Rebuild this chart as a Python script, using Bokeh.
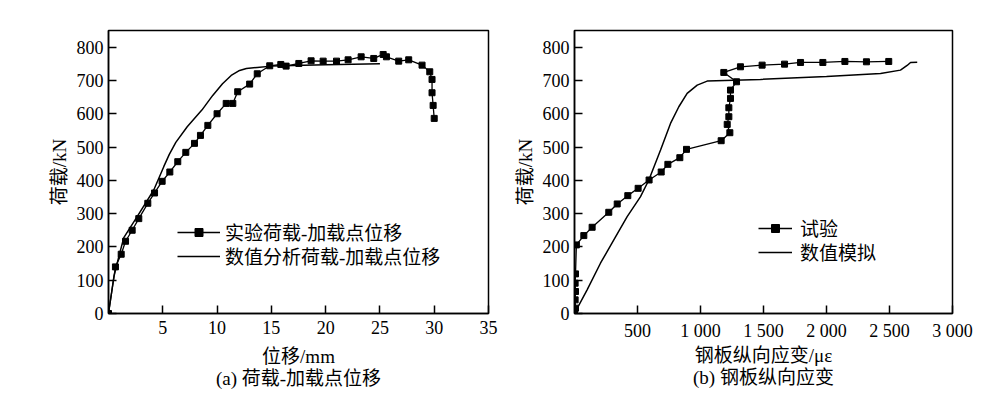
from bokeh.plotting import figure
from bokeh.layouts import row
from bokeh.models import FixedTicker, Legend, LegendItem, Range1d
from bokeh.embed import file_html
from bokeh.resources import INLINE

# ---------------- data (a) ----------------
exp_disp = [0, 0.64, 1.17, 1.57, 2.18, 2.79, 3.62, 4.24, 4.94, 5.65, 6.38, 7.12, 7.92, 8.47,
            9.15, 10.0, 10.84, 11.45, 11.9, 13.0, 13.7, 14.85, 15.87, 16.36, 17.53, 18.66,
            19.77, 21.0, 22.07, 23.27, 24.43, 25.3, 25.6, 26.73, 27.65, 28.88, 29.59, 29.8,
            29.8, 29.9, 30.0]
exp_load = [0, 140, 178, 217, 250, 285, 331, 362, 397, 425, 456, 484, 511, 535, 565, 600, 631,
            631, 666, 689, 720, 744, 748, 743, 751, 759, 758, 758, 762, 771, 766, 778, 771, 758,
            762, 746, 726, 703, 663, 625, 586]
sim_disp = [0, 0.5, 0.95, 1.41, 2.64, 4.17, 5.09, 5.6, 6.2, 7.25, 8.6, 9.6, 10.5, 11.3, 12.0,
            12.7, 13.7, 15.0, 20.0, 25.0]
sim_load = [0, 111, 171, 228, 291, 371, 441, 478, 514, 561, 611, 655, 690, 715, 729, 736, 739,
            743, 747, 750]

# ---------------- data (b) ----------------
exp_strain = [0, 8, 5, 8, 5, 8, 15, 74, 140, 272, 339, 423, 505, 592, 688, 741, 836, 889, 1164,
              1233, 1212, 1225, 1225, 1238, 1238, 1286, 1185, 1317, 1489, 1667, 1794, 1971,
              2146, 2317, 2494]
exp_load2 = [0, 16, 41, 66, 91, 119, 206, 234, 259, 304, 329, 354, 376, 401, 425, 448, 468, 493,
             519, 543, 568, 591, 618, 646, 671, 696, 724, 741, 746, 749, 754, 754, 757, 756, 757]
sim_strain = [0, 100, 206, 312, 418, 524, 590, 683, 762, 828, 894, 974, 1053, 1476, 2000, 2429,
              2587, 2640, 2667, 2720]
sim_load2 = [0, 71, 151, 221, 291, 351, 401, 491, 571, 621, 661, 686, 698, 703, 712, 721, 731,
             745, 754, 755]

y_ticks = [0, 100, 200, 300, 400, 500, 600, 700, 800]
x_ticks_a = [5, 10, 15, 20, 25, 30, 35]
x_ticks_b = [500, 1000, 1500, 2000, 2500, 3000]
x_labels_b = {500: "500", 1000: "1 000", 1500: "1 500", 2000: "2 000", 2500: "2 500", 3000: "3 000"}

FONT = "'Liberation Serif', 'Noto Sans CJK SC'"
TICK_SIZE = "18px"
LABEL_SIZE = "19px"


def style(p, xticks, xlabel, ylabel, caption, xlabel_standoff):
    p.grid.visible = False
    p.outline_line_color = "black"
    p.outline_line_width = 1.5
    p.background_fill_color = "white"
    p.border_fill_color = "white"
    for ax in (p.xaxis[0], p.yaxis[0]):
        ax.axis_line_color = "black"
        ax.axis_line_width = 1.5
        ax.major_tick_in = 8
        ax.major_tick_out = 0
        ax.major_tick_line_width = 1.5
        ax.minor_tick_line_color = None
        ax.major_label_text_font = FONT
        ax.major_label_text_font_size = TICK_SIZE
        ax.major_label_text_color = "black"
        ax.axis_label_text_font = FONT
        ax.axis_label_text_font_size = LABEL_SIZE
        ax.axis_label_text_font_style = "normal"
        ax.axis_label_text_color = "black"
    p.xaxis[0].ticker = FixedTicker(ticks=xticks)
    p.yaxis[0].ticker = FixedTicker(ticks=y_ticks)
    p.xaxis[0].axis_label = xlabel + "\n" + caption
    p.xaxis[0].axis_label_text_line_height = 1.06
    p.yaxis[0].axis_label = ylabel
    p.xaxis[0].major_label_standoff = 7
    p.yaxis[0].major_label_standoff = 5
    p.xaxis[0].axis_label_standoff = xlabel_standoff
    p.yaxis[0].axis_label_standoff = 4


def add_legend(p, label, renderers, x, y, gw, standoff):
    leg = Legend(items=[LegendItem(label=label, renderers=renderers)],
                 location=(x, y), orientation="vertical", border_line_color=None,
                 background_fill_alpha=0, padding=0, margin=0, spacing=0,
                 glyph_width=gw, glyph_height=20, label_height=20, label_standoff=standoff,
                 label_text_font=FONT, label_text_font_size=LABEL_SIZE,
                 label_text_color="black")
    p.add_layout(leg)


# ---------------- figure (a) ----------------
pa = figure(width=508, height=393, output_backend="svg", toolbar_location=None,
            x_range=Range1d(0, 35), y_range=Range1d(0, 850),
            min_border_left=108, min_border_right=20, min_border_top=30, min_border_bottom=80)
style(pa, x_ticks_a, "位移/mm", "荷载/kN", "(a) 荷载-加载点位移", 9)
r_exp_l = pa.line(exp_disp, exp_load, line_color="black", line_width=1.3)
r_exp_m = pa.scatter(exp_disp, exp_load, marker="square", size=6, fill_color="black",
                     line_color="black")
r_sim = pa.line(sim_disp, sim_load, line_color="black", line_width=1.5)
add_legend(pa, "实验荷载-加载点位移", [r_exp_l, r_exp_m], 69, 68, 43, 5)
add_legend(pa, "数值分析荷载-加载点位移", [r_sim], 69, 44, 43, 5)

# ---------------- figure (b) ----------------
pb = figure(width=474, height=393, output_backend="svg", toolbar_location=None,
            x_range=Range1d(0, 3000), y_range=Range1d(0, 850),
            min_border_left=66, min_border_right=30, min_border_top=30, min_border_bottom=80)
style(pb, x_ticks_b, "钢板纵向应变/με", "荷载/kN", "(b) 钢板纵向应变", 1)
pb.xaxis[0].major_label_overrides = x_labels_b
r2_exp_l = pb.line(exp_strain, exp_load2, line_color="black", line_width=1.3)
r2_exp_m = pb.scatter(exp_strain, exp_load2, marker="square", size=6, fill_color="black",
                      line_color="black")
r2_sim = pb.line(sim_strain, sim_load2, line_color="black", line_width=1.5)
add_legend(pb, "试验", [r2_exp_l, r2_exp_m], 184, 72, 34, 8)
add_legend(pb, "数值模拟", [r2_sim], 184, 48, 34, 8)

layout = row(pa, pb)
open("out.html", "w").write(file_html(layout, INLINE))
